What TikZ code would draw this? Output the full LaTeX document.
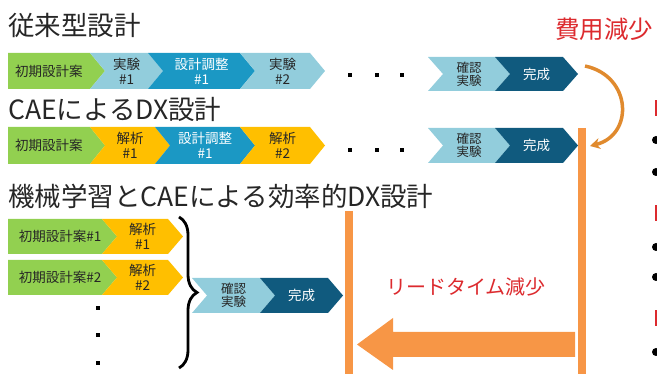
\documentclass[tikz,border=0pt]{standalone}
\usepackage{fontspec}
\setmainfont{Noto Sans CJK JP}
\usetikzlibrary{arrows.meta,decorations.pathreplacing}
\definecolor{cgreen}{HTML}{92D050}
\definecolor{clblue}{HTML}{92CDDC}
\definecolor{cblue}{HTML}{1B98C4}
\definecolor{cnavy}{HTML}{105A7E}
\definecolor{cyellow}{HTML}{FFBF00}
\definecolor{corange}{HTML}{F79646}
\definecolor{cbrown}{HTML}{E08A2E}
\definecolor{cred}{HTML}{DC2A2E}
\definecolor{ctitle}{HTML}{262626}
\newcommand{\chev}[9]{%
  \fill[#6] (#2,#4) -- (#3,#4) -- ({#3+15},{(#4+#5)/2}) -- (#3,#5) -- (#2,#5) -- ({#2+15*#7},{(#4+#5)/2}) -- cycle;
  \node[#8] (#1) at ({(#2+#3+15*#7)/2},{(#4+#5)/2}) {#9};
}
\begin{document}
\begin{tikzpicture}[x=1pt,y=-1pt,
  title/.style={anchor=west,inner sep=0pt,text=ctitle,font=\fontsize{26.5}{28}\selectfont},
  ctext/.style={inner sep=0pt,align=center,text=ctitle,font=\fontsize{13.5}{15}\selectfont},
  wtext/.style={ctext,text=white},
  stext/.style={inner sep=0pt,align=center,text=ctitle,font=\fontsize{12.5}{13}\selectfont},
  redtext/.style={inner sep=0pt,text=cred},
  dot/.style={fill=black},
  oline/.style={corange,line width=8pt}]
\useasboundingbox (0,0) rectangle (657,374);
% titles
\node[title] (t1) at (8,25) {従来型設計};
\node[title] (t2) at (8,109) {CAEによるDX設計};
\node[title] (t3) at (8,196) {機械学習とCAEによる効率的DX設計};
% row 1
\chev{a1}{8}{90}{53}{89}{cgreen}{0}{ctext}{初期設計案}
\chev{a2}{90}{148}{53}{89}{clblue}{1}{ctext}{実験\\\#1}
\chev{a3}{148}{240}{53}{89}{cblue}{1}{wtext}{設計調整\\\#1}
\chev{a4}{240}{310}{53}{89}{clblue}{1}{ctext}{実験\\\#2}
\foreach \x in {350,377,402} \fill[dot] (\x-2,73) rectangle (\x+2,77);
\chev{a5}{428}{495}{57}{91}{clblue}{1}{stext}{確認\\実験}
\chev{a6}{495}{563}{57}{91}{cnavy}{1}{wtext}{完成}
% row 2
\chev{b1}{8}{90}{127}{164}{cgreen}{0}{ctext}{初期設計案}
\chev{b2}{90}{155}{127}{164}{cyellow}{1}{ctext}{解析\\\#1}
\chev{b3}{155}{240}{127}{164}{cblue}{1}{wtext}{設計調整\\\#1}
\chev{b4}{240}{310}{127}{164}{cyellow}{1}{ctext}{解析\\\#2}
\foreach \x in {350,377,402} \fill[dot] (\x-2,148) rectangle (\x+2,152);
\chev{b5}{428}{495}{128}{163}{clblue}{1}{stext}{確認\\実験}
\chev{b6}{495}{563}{128}{163}{cnavy}{1}{wtext}{完成}
% row 3
\chev{c1}{8}{102}{219}{254}{cgreen}{0}{ctext,xshift=5pt}{初期設計案\#1}
\chev{c2}{102}{168}{219}{254}{cyellow}{1}{ctext}{解析\\\#1}
\chev{d1}{8}{102}{260}{295}{cgreen}{0}{ctext,xshift=5pt}{初期設計案\#2}
\chev{d2}{102}{168}{260}{295}{cyellow}{1}{ctext}{解析\\\#2}
\foreach \y in {308,335,363} \fill[dot] (96,\y-2) rectangle (100,\y+2);
\coordinate (brt) at (179,217);
\coordinate (brb) at (179,368);
\draw[line width=2.8pt,decorate,decoration={brace,amplitude=18pt}] (brt) -- (brb);
\chev{e5}{192}{260}{278}{313}{clblue}{1}{stext}{確認\\実験}
\chev{e6}{260}{328}{278}{313}{cnavy}{1}{wtext}{完成}
% orange lines and arrow
\coordinate (rl1) at (582,128);
\coordinate (rl2) at (582,374);
\coordinate (ll1) at (349,211);
\coordinate (ll2) at (349,374);
\draw[oline] (rl1) -- (rl2);
\draw[oline] (ll1) -- (ll2);
\fill[corange] (575,332) -- (393,332) -- (393,318) -- (357,344.5) -- (393,370) -- (393,357) -- (575,357) -- cycle;
\node[redtext,font=\fontsize{20}{22}\selectfont] (lt) at (466,287) {リードタイム減少};
% cost reduction
\node[redtext,font=\fontsize{24.5}{26}\selectfont] (cost) at (604,29) {費用減少};
\coordinate (ca1) at (585,66);
\coordinate (ca2) at (590,146);
\draw[cbrown,line width=3.5pt,-{Stealth[length=10pt,width=11pt]}] (ca1) .. controls (632,76) and (634,135) .. (ca2);
% cut-off right edge marks
\foreach \y in {100,205,310} \fill[cred] (655,\y) rectangle (657,\y+16);
\foreach \y in {140,172,247,277,352} \fill[black] (656,\y) circle (4);
\end{tikzpicture}
\end{document}
